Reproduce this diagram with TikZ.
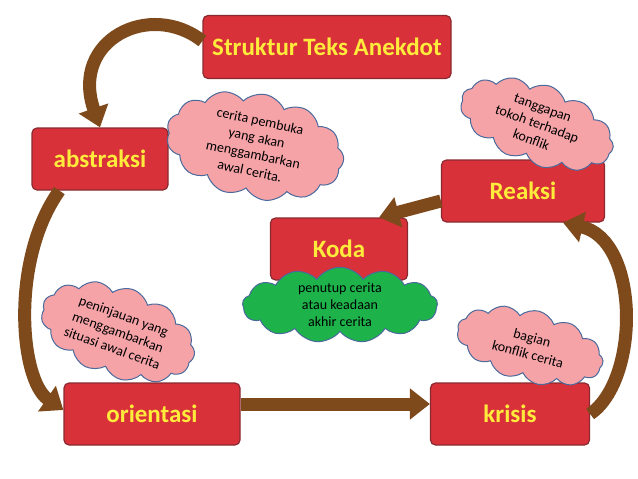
\documentclass[tikz,border=0pt]{standalone}
\usepackage{fontspec}
\setmainfont{Carlito}
\usetikzlibrary{shapes.symbols,arrows.meta}
\definecolor{boxred}{HTML}{D9313A}
\definecolor{boxedge}{HTML}{8A2A30}
\definecolor{txtyel}{HTML}{FFEB3B}
\definecolor{arr}{HTML}{7E4A1C}
\definecolor{pink}{HTML}{F6A3A8}
\definecolor{cedge}{HTML}{4A6A9C}
\definecolor{grn}{HTML}{1DB34A}
\tikzset{
 box/.style={draw=boxedge,line width=1.2pt,fill=boxred,rounded corners=5pt,font=\bfseries\fontsize{25}{28}\selectfont,text=txtyel,inner sep=0pt},
 cl/.style={cloud,cloud puffs=13,cloud puff arc=110,aspect=2,draw=cedge,line width=1pt,fill=pink,align=center,font=\fontsize{14}{17}\selectfont,inner sep=0pt},
 barr/.style={arr,line width=13pt,-{Triangle[width=30pt,length=20pt]}},
}
\begin{document}
\begin{tikzpicture}[x=1pt,y=-1pt]
\useasboundingbox (0,0) rectangle (638,479);
\node[box,minimum width=248,minimum height=63] (s) at (327,47) {Struktur Teks Anekdot};
\node[box,minimum width=136,minimum height=62] (a) at (100,159) {abstraksi};
\node[box,minimum width=163,minimum height=62] (r) at (523,191) {Reaksi};
\node[box,minimum width=137,minimum height=62] (k) at (339,249) {Koda};
\node[box,minimum width=176,minimum height=62] (o) at (152,414) {orientasi};
\node[box,minimum width=159,minimum height=62] (kr) at (510,414) {krisis};
\node[cl,minimum width=180,minimum height=82,rotate=-12] (c1) at (255,146) {cerita pembuka\\yang akan\\menggambarkan\\awal cerita.};
\node[cl,minimum width=160,minimum height=80,rotate=-20] (c2) at (537,124) {tanggapan\\tokoh terhadap\\konflik};
\node[cl,fill=grn,minimum width=195,minimum height=66] (c3) at (340,305) {penutup cerita\\atau keadaan\\akhir cerita};
\node[cl,minimum width=160,minimum height=90,rotate=-20] (c4) at (118,332) {peninjauan yang\\menggambarkan\\situasi awal cerita};
\node[cl,minimum width=150,minimum height=72,rotate=-15] (c5) at (530,346) {bagian\\konflik cerita};
\draw[barr] ([yshift=6]s.west) .. controls (150,0) and (70,40) .. (a.north);
\draw[barr] ([xshift=28]a.south west) .. controls (10,260) and (20,380) .. ([yshift=4]o.west);
\draw[barr] ([yshift=10]o.east) -- ([yshift=10]kr.west);
\draw[barr] (kr.east) .. controls (640,380) and (640,240) .. ([xshift=40]r.south);
\draw[barr] ([yshift=-10]r.west) -- ([xshift=40]k.north);
\end{tikzpicture}
\end{document}
